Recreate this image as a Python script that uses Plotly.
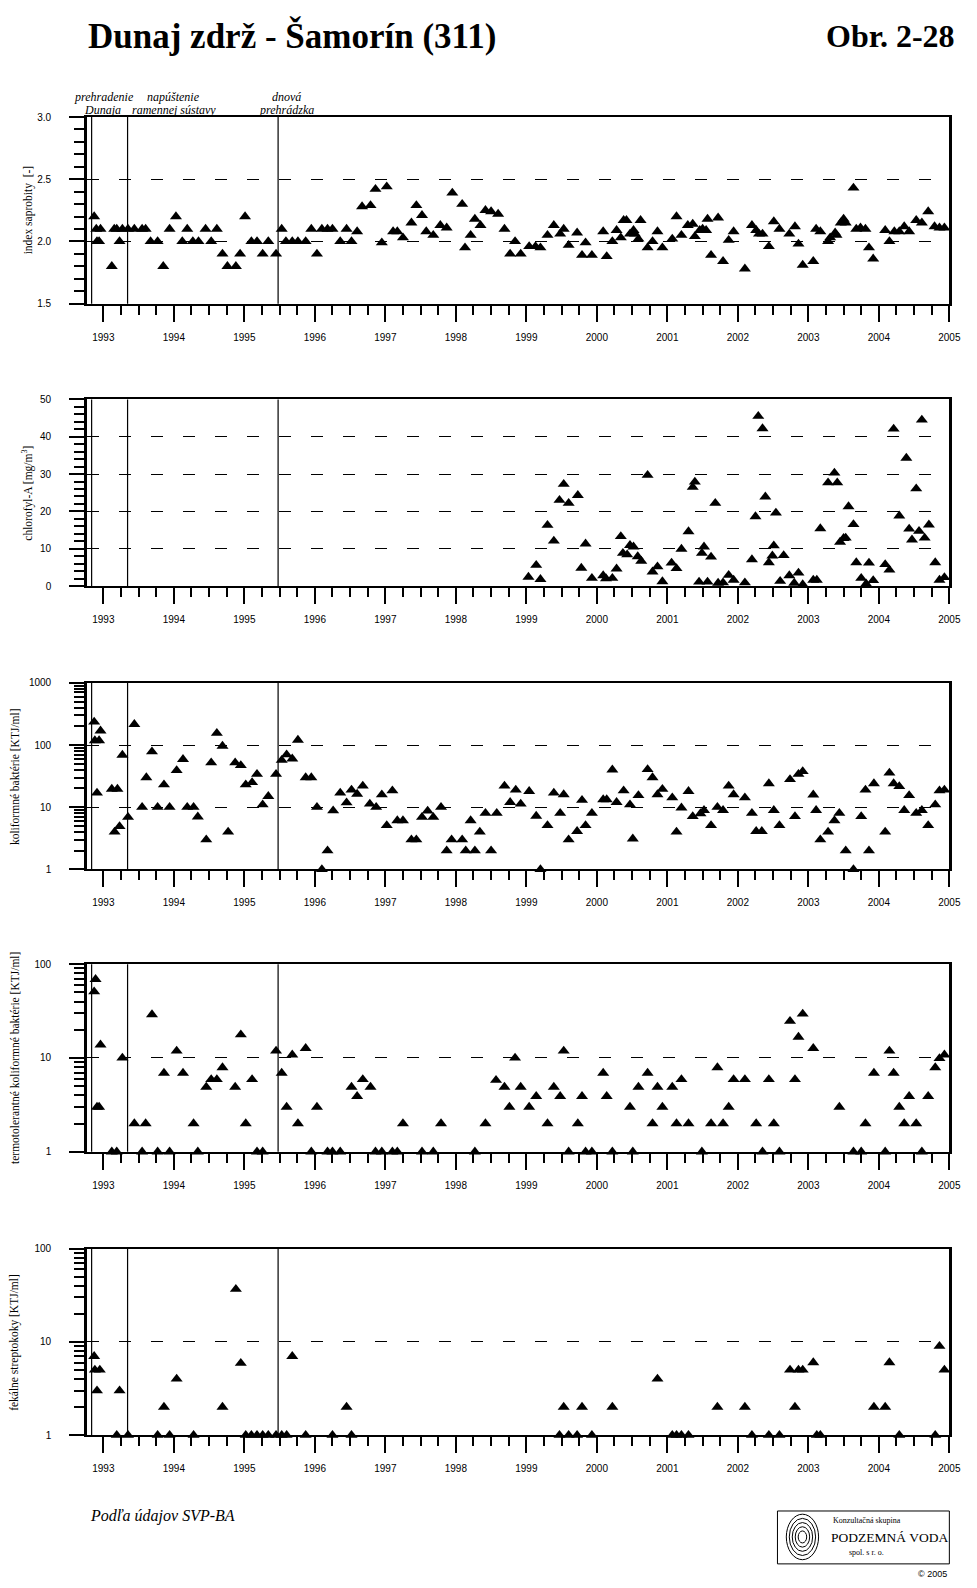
import plotly.graph_objects as go

# ---------------- data (decimal years) ----------------
saprobity_year = [1992.87, 1992.90, 1992.91, 1992.94, 1992.96, 1993.12, 1993.155, 1993.19, 1993.23, 1993.27,
                  1993.35, 1993.44, 1993.55, 1993.60, 1993.67, 1993.77, 1993.85, 1993.94, 1994.03, 1994.12,
                  1994.19, 1994.27, 1994.35, 1994.45, 1994.53, 1994.61, 1994.69, 1994.76, 1994.88, 1994.94,
                  1995.01, 1995.10, 1995.18, 1995.26, 1995.34, 1995.45, 1995.53, 1995.59, 1995.68, 1995.76,
                  1995.87, 1995.95, 1996.03, 1996.10, 1996.18, 1996.25, 1996.36, 1996.45, 1996.52, 1996.60,
                  1996.67, 1996.79, 1996.86, 1996.95, 1997.02, 1997.11, 1997.17, 1997.25, 1997.37, 1997.44,
                  1997.52, 1997.58, 1997.68, 1997.78, 1997.87, 1997.95, 1998.09, 1998.13, 1998.21, 1998.27,
                  1998.35, 1998.42, 1998.50, 1998.60, 1998.69, 1998.77, 1998.84, 1998.92, 1999.04, 1999.13,
                  1999.20, 1999.30, 1999.39, 1999.48, 1999.53, 1999.60, 1999.72, 1999.79, 1999.84, 1999.93,
                  2000.09, 2000.14, 2000.22, 2000.28, 2000.34, 2000.38, 2000.42, 2000.47, 2000.52, 2000.54,
                  2000.59, 2000.62, 2000.72, 2000.79, 2000.86, 2000.93, 2001.07, 2001.13, 2001.20, 2001.29,
                  2001.36, 2001.39, 2001.46, 2001.50, 2001.55, 2001.57, 2001.62, 2001.72, 2001.79, 2001.87,
                  2001.94, 2002.10, 2002.20, 2002.26, 2002.30, 2002.35, 2002.44, 2002.51, 2002.59, 2002.73,
                  2002.81, 2002.86, 2002.92, 2003.07, 2003.11, 2003.17, 2003.28, 2003.31, 2003.38, 2003.40,
                  2003.46, 2003.50, 2003.53, 2003.64, 2003.68, 2003.74, 2003.81, 2003.86, 2003.92, 2004.09,
                  2004.15, 2004.22, 2004.29, 2004.36, 2004.43, 2004.53, 2004.61, 2004.70, 2004.79, 2004.86,
                  2004.93]
saprobity_index = [2.2, 2.1, 2.0, 2.0, 2.1, 1.8, 2.1, 2.1, 2.0, 2.1,
                   2.1, 2.1, 2.1, 2.1, 2.0, 2.0, 1.8, 2.1, 2.2, 2.0,
                   2.1, 2.0, 2.0, 2.1, 2.0, 2.1, 1.9, 1.8, 1.8, 1.9,
                   2.2, 2.0, 2.0, 1.9, 2.0, 1.9, 2.1, 2.0, 2.0, 2.0,
                   2.0, 2.1, 1.9, 2.1, 2.1, 2.1, 2.0, 2.1, 2.0, 2.08,
                   2.28, 2.29, 2.42, 1.99, 2.44, 2.08, 2.08, 2.03, 2.15, 2.29,
                   2.21, 2.08, 2.05, 2.13, 2.11, 2.39, 2.30, 1.95, 2.05, 2.18,
                   2.13, 2.25, 2.24, 2.22, 2.10, 1.90, 2.00, 1.90, 1.96, 1.96,
                   1.95, 2.05, 2.13, 2.06, 2.10, 1.97, 2.07, 1.89, 1.99, 1.89,
                   2.08, 1.88, 2.00, 2.09, 2.03, 2.17, 2.17, 2.06, 2.09, 2.06,
                   2.02, 2.17, 1.95, 2.00, 2.08, 1.95, 2.02, 2.20, 2.05, 2.13,
                   2.14, 2.04, 2.09, 2.10, 2.09, 2.18, 1.89, 2.19, 1.84, 2.01,
                   2.08, 1.78, 2.13, 2.09, 2.06, 2.06, 1.96, 2.16, 2.10, 2.06,
                   2.12, 1.98, 1.81, 1.84, 2.10, 2.08, 2.00, 2.03, 2.07, 2.05,
                   2.15, 2.18, 2.15, 2.43, 2.10, 2.11, 2.10, 1.95, 1.86, 2.09,
                   2.00, 2.08, 2.08, 2.12, 2.08, 2.17, 2.15, 2.24, 2.12, 2.11,
                   2.11]

chl_year = [1999.03, 1999.14, 1999.20, 1999.30, 1999.39, 1999.47, 1999.53, 1999.60, 1999.73, 1999.78,
            1999.84, 1999.93, 2000.09, 2000.13, 2000.22, 2000.28, 2000.34, 2000.37, 2000.43, 2000.47,
            2000.52, 2000.58, 2000.63, 2000.72, 2000.79, 2000.86, 2000.93, 2001.06, 2001.13, 2001.20,
            2001.30, 2001.36, 2001.39, 2001.45, 2001.49, 2001.52, 2001.57, 2001.62, 2001.68, 2001.72,
            2001.79, 2001.87, 2001.94, 2002.10, 2002.20, 2002.25, 2002.29, 2002.35, 2002.39, 2002.44,
            2002.49, 2002.51, 2002.54, 2002.60, 2002.65, 2002.73, 2002.80, 2002.86, 2002.92, 2003.07,
            2003.12, 2003.17, 2003.28, 2003.37, 2003.41, 2003.45, 2003.50, 2003.53, 2003.57, 2003.64,
            2003.68, 2003.75, 2003.82, 2003.86, 2003.92, 2004.09, 2004.15, 2004.21, 2004.29, 2004.36,
            2004.39, 2004.43, 2004.47, 2004.53, 2004.57, 2004.61, 2004.65, 2004.71, 2004.80, 2004.86,
            2004.93]
chl_value = [2.4, 5.6, 1.8, 16.3, 12.1, 23.0, 27.3, 22.2, 24.3, 4.8,
             11.3, 2.1, 2.8, 2.0, 2.1, 4.6, 13.3, 8.8, 8.4, 10.9,
             10.5, 7.9, 6.7, 29.7, 3.8, 5.2, 1.2, 6.2, 4.7, 9.9,
             14.6, 26.5, 27.9, 1.1, 8.8, 10.5, 1.1, 7.8, 22.2, 0.8,
             0.9, 2.9, 1.6, 0.9, 7.1, 18.6, 45.5, 42.2, 23.9, 6.3,
             8.1, 10.8, 19.6, 1.3, 8.2, 2.8, 0.8, 3.5, 0.4, 1.6,
             1.6, 15.4, 27.7, 30.3, 27.7, 11.8, 12.8, 12.9, 21.3, 16.5,
             6.3, 2.1, 0.6, 6.2, 1.5, 5.8, 4.3, 42.1, 18.8, 50.9,
             34.3, 15.3, 12.4, 26.1, 14.7, 44.5, 12.9, 16.4, 6.3, 1.6,
             2.3]

coli_year = [1992.87, 1992.88, 1992.91, 1992.94, 1992.96, 1993.12, 1993.16, 1993.20, 1993.23, 1993.27,
             1993.35, 1993.44, 1993.55, 1993.61, 1993.69, 1993.77, 1993.86, 1993.94, 1994.04, 1994.13,
             1994.19, 1994.28, 1994.34, 1994.46, 1994.53, 1994.61, 1994.69, 1994.77, 1994.87, 1994.95,
             1995.02, 1995.11, 1995.18, 1995.26, 1995.34, 1995.45, 1995.53, 1995.60, 1995.68, 1995.76,
             1995.87, 1995.95, 1996.03, 1996.10, 1996.18, 1996.26, 1996.36, 1996.45, 1996.52, 1996.60,
             1996.68, 1996.78, 1996.87, 1996.95, 1997.02, 1997.10, 1997.17, 1997.25, 1997.37, 1997.44,
             1997.52, 1997.60, 1997.68, 1997.79, 1997.87, 1997.94, 1998.09, 1998.14, 1998.21, 1998.27,
             1998.34, 1998.42, 1998.50, 1998.58, 1998.69, 1998.77, 1998.85, 1998.92, 1999.04, 1999.14,
             1999.20, 1999.30, 1999.39, 1999.48, 1999.53, 1999.60, 1999.72, 1999.79, 1999.84, 1999.93,
             2000.09, 2000.14, 2000.22, 2000.28, 2000.38, 2000.47, 2000.51, 2000.59, 2000.72, 2000.79,
             2000.86, 2000.93, 2001.07, 2001.13, 2001.20, 2001.30, 2001.36, 2001.47, 2001.52, 2001.62,
             2001.71, 2001.79, 2001.87, 2001.94, 2002.10, 2002.20, 2002.26, 2002.34, 2002.44, 2002.51,
             2002.59, 2002.74, 2002.81, 2002.86, 2002.92, 2003.07, 2003.11, 2003.17, 2003.28, 2003.37,
             2003.44, 2003.53, 2003.64, 2003.75, 2003.81, 2003.86, 2003.93, 2004.09, 2004.15, 2004.21,
             2004.29, 2004.36, 2004.43, 2004.53, 2004.61, 2004.70, 2004.80, 2004.86, 2004.93]
coli_value = [235, 118, 17, 118, 169, 19.6, 4, 19.6, 4.9, 69,
              6.9, 215, 10, 30, 78, 10, 23, 10, 39, 59,
              10, 10, 7, 3, 52, 155, 96, 4, 52, 47,
              23, 25, 34, 11, 15, 34, 57, 70, 60, 120,
              30, 30, 10, 1, 2, 8.8, 17, 11.8, 19, 16.3,
              22, 11.3, 10, 15.9, 5.1, 18.4, 6.1, 6.1, 3, 3,
              6.9, 8.7, 6.9, 10, 2, 3, 3, 2, 6.1, 2,
              4, 8, 2, 8, 22, 12, 19, 11.3, 18, 7.2,
              1, 5.1, 17, 8, 16, 3, 4.1, 13, 5.1, 8,
              13.3, 13.3, 40, 12, 18.4, 11, 3.1, 15.5, 40.5, 30,
              16, 19.5, 14.2, 4, 9.8, 18, 7.1, 7.9, 8.9, 5.1,
              10, 8.9, 22, 16, 14.2, 8, 4.1, 4.1, 24, 8.9,
              5.1, 28, 7.1, 34, 37.6, 15.8, 8.9, 3, 4, 6.1,
              8, 2, 1, 7.1, 19, 2, 24, 4, 35.5, 24,
              21.6, 8.9, 15.5, 8, 8.9, 5.1, 11, 18.4, 19]

thermo_year = [1992.87, 1992.89, 1992.91, 1992.94, 1992.96, 1993.12, 1993.19, 1993.27, 1993.44, 1993.55,
               1993.60, 1993.69, 1993.77, 1993.86, 1993.94, 1994.04, 1994.13, 1994.28, 1994.34, 1994.46,
               1994.53, 1994.61, 1994.69, 1994.87, 1994.95, 1995.02, 1995.11, 1995.18, 1995.26, 1995.45,
               1995.53, 1995.60, 1995.68, 1995.76, 1995.87, 1995.95, 1996.03, 1996.18, 1996.25, 1996.36,
               1996.52, 1996.60, 1996.68, 1996.79, 1996.86, 1996.95, 1997.10, 1997.17, 1997.25, 1997.52,
               1997.68, 1997.79, 1998.27, 1998.42, 1998.57, 1998.69, 1998.76, 1998.84, 1998.92, 1999.04,
               1999.14, 1999.30, 1999.39, 1999.48, 1999.53, 1999.60, 1999.73, 1999.79, 1999.84, 1999.93,
               2000.09, 2000.14, 2000.22, 2000.47, 2000.51, 2000.59, 2000.72, 2000.79, 2000.86, 2000.93,
               2001.07, 2001.13, 2001.20, 2001.30, 2001.49, 2001.62, 2001.71, 2001.79, 2001.87, 2001.94,
               2002.10, 2002.26, 2002.35, 2002.44, 2002.51, 2002.59, 2002.74, 2002.81, 2002.86, 2002.92,
               2003.07, 2003.44, 2003.64, 2003.75, 2003.81, 2003.93, 2004.09, 2004.15, 2004.21, 2004.29,
               2004.36, 2004.43, 2004.53, 2004.61, 2004.70, 2004.80, 2004.86, 2004.93]
thermo_value = [51, 69, 3, 3, 13.8, 1, 1, 10, 2, 1,
                2, 29, 1, 6.9, 1, 11.9, 6.9, 2, 1, 4.9,
                5.9, 5.9, 7.9, 4.9, 17.7, 2, 5.9, 1, 1, 11.9,
                6.9, 3, 10.8, 2, 12.7, 1, 3, 1, 1, 1,
                4.9, 3.9, 5.9, 4.9, 1, 1, 1, 1, 2, 1,
                1, 2, 1, 2, 5.8, 4.9, 3, 10, 4.9, 3,
                3.9, 2, 4.9, 3.9, 11.9, 1, 2, 3.9, 1, 1,
                6.9, 3.9, 1, 3, 1, 4.9, 6.9, 2, 4.9, 3,
                4.9, 2, 5.9, 2, 1, 2, 7.9, 2, 3, 5.9,
                5.9, 2, 1, 5.9, 2, 1, 24.7, 5.9, 16.7, 29.5,
                12.7, 3, 1, 1, 2, 6.9, 1, 11.9, 6.9, 3,
                2, 3.9, 2, 1, 3.9, 7.9, 9.9, 10.8]

strep_year = [1992.87, 1992.88, 1992.91, 1992.95, 1993.19, 1993.23, 1993.35, 1993.77, 1993.86, 1993.94,
              1994.04, 1994.28, 1994.69, 1994.88, 1994.95, 1995.02, 1995.10, 1995.18, 1995.26, 1995.34,
              1995.45, 1995.53, 1995.60, 1995.68, 1995.87, 1996.25, 1996.45, 1996.52, 1999.47, 1999.53,
              1999.60, 1999.72, 1999.79, 1999.93, 2000.22, 2000.86, 2001.07, 2001.13, 2001.20, 2001.30,
              2001.71, 2002.10, 2002.20, 2002.44, 2002.59, 2002.74, 2002.81, 2002.86, 2002.92, 2003.07,
              2003.12, 2003.17, 2003.93, 2004.09, 2004.15, 2004.29, 2004.80, 2004.86, 2004.93]
strep_value = [7, 5, 3, 5, 1, 3, 1, 1, 2, 1,
               4, 1, 2, 36.7, 5.9, 1, 1, 1, 1, 1,
               1, 1, 1, 7, 1, 1, 2, 1, 1, 2,
               1, 1, 2, 1, 2, 4, 1, 1, 1, 1,
               2, 2, 1, 1, 1, 5, 2, 5, 5, 6,
               1, 1, 2, 2, 6, 1, 1, 9, 5]

event_years = [1992.834, 1993.344, 1995.479]
event_label_lines = [("prehradenie", "Dunaja"), ("napúštenie", "ramennej sústavy"), ("dnová", "prehrádzka")]

y_titles = ["index saprobity  [-]", "chlorofyl-A [mg/m<sup>3</sup>]", "koliformné baktérie [KTJ/ml]",
            "termotolerantné koliformné baktérie [KTJ/ml]", "fekálne streptokoky [KTJ/ml]"]

# ---------------- layout helpers ----------------
W, H = 977, 1588
# empirical correction for the capture pipeline (measured on earlier renders)
SX, SY, BY = 0.9884, 0.99462, 3.7


def fx(px):
    return (px / SX) / W


def fy(py):
    return 1 - ((py - BY) / SY) / H


def sfx(i):
    return "" if i == 1 else str(i)


X0, X1 = 87, 950
panel_px = [(115, 302), (398, 585), (682, 869), (964, 1152), (1249, 1436)]
title_x = [28, 28, 15, 15, 15]

SANS = "Liberation Sans"
SERIF = "Liberation Serif"

fig = go.Figure()

series = [(saprobity_year, saprobity_index), (chl_year, chl_value), (coli_year, coli_value),
          (thermo_year, thermo_value), (strep_year, strep_value)]

for i, (xs, ys) in enumerate(series, start=1):
    fig.add_trace(go.Scatter(
        x=xs, y=ys, mode="markers", xaxis="x" + sfx(i), yaxis="y" + sfx(i),
        marker=dict(symbol="triangle-up", size=10.5, color="black", line=dict(width=0)),
        cliponaxis=False, showlegend=False, hoverinfo="x+y"))

layout = dict(width=W, height=H, autosize=False, margin=dict(l=0, r=0, t=0, b=0, pad=0),
              paper_bgcolor="white", plot_bgcolor="white", showlegend=False,
              font=dict(family=SANS, color="black"))

for i, (top, bot) in enumerate(panel_px, start=1):
    layout["xaxis" + sfx(i)] = dict(
        domain=[fx(X0), fx(X1)], range=[1992.7675, 2005.0], anchor="y" + sfx(i),
        tickmode="linear", tick0=1993, dtick=1, tickformat="d",
        ticks="outside", ticklen=16, tickwidth=2, tickcolor="black",
        minor=dict(ticks="outside", ticklen=9, tickwidth=2, tickcolor="black",
                   tickmode="linear", tick0=1993, dtick=0.25, showgrid=False),
        showline=True, linewidth=2, linecolor="black", mirror=True,
        showgrid=False, zeroline=False, ticklabelstandoff=7,
        tickfont=dict(family=SANS, size=10, color="black"))
    ya = dict(domain=[fy(bot), fy(top)], anchor="x" + sfx(i),
              ticks="outside", ticklen=15, tickwidth=2, tickcolor="black",
              showline=True, linewidth=2.5, linecolor="black", mirror=True,
              showgrid=True, gridcolor="black", gridwidth=1, griddash="12px,20px",
              zeroline=False, ticklabelstandoff=16,
              tickfont=dict(family=SANS, size=10, color="black"))
    if i == 1:
        ya.update(range=[1.5, 3.0], tickmode="linear", tick0=1.5, dtick=0.5, tickformat=".1f",
                  minor=dict(ticks="outside", ticklen=10, tickwidth=2, tickcolor="black",
                             tickmode="linear", tick0=1.5, dtick=0.1, showgrid=False))
    elif i == 2:
        ya.update(range=[0, 50], tickmode="linear", tick0=0, dtick=10,
                  minor=dict(ticks="outside", ticklen=10, tickwidth=2, tickcolor="black",
                             tickmode="linear", tick0=0, dtick=2, showgrid=False))
    else:
        decades = 3 if i == 3 else 2
        majors = [10 ** k for k in range(decades + 1)]
        minors = [m * 10 ** k for k in range(decades) for m in range(2, 10)]
        ya.update(type="log", range=[0, decades], tickmode="array", tickvals=majors,
                  ticktext=[str(v) for v in majors],
                  minor=dict(ticks="outside", ticklen=10, tickwidth=2, tickcolor="black",
                             tickmode="array", tickvals=minors, showgrid=False))
    layout["yaxis" + sfx(i)] = ya

shapes = []
annotations = []
for i, (top, bot) in enumerate(panel_px, start=1):
    for ev in event_years:
        shapes.append(dict(type="line", xref="x" + sfx(i), yref="y" + sfx(i) + " domain",
                           x0=ev, x1=ev, y0=0, y1=1,
                           line=dict(color="black", width=1.2), layer="above"))
    annotations.append(dict(text=y_titles[i - 1], x=fx(title_x[i - 1]), y=fy((top + bot) / 2),
                            xref="paper", yref="paper", textangle=-90, showarrow=False,
                            xanchor="center", yanchor="middle",
                            font=dict(family=SERIF, size=11.5, color="black")))

# event labels above the first panel (two lines each)
label_pos = [((104.5, 95), (102.5, 108)), ((173.5, 95), (174, 108)), ((287, 95), (286.5, 108))]
for (l1, l2), (p1, p2) in zip(event_label_lines, label_pos):
    for txt, (lx, ly) in ((l1, p1), (l2, p2)):
        annotations.append(dict(text="<i>" + txt + "</i>", xref="paper", yref="paper",
                                x=fx(lx), y=fy(ly), showarrow=False, xanchor="center",
                                yanchor="middle", font=dict(family=SERIF, size=12, color="black")))

# titles
annotations.append(dict(text="<b>Dunaj zdrž - Šamorín (311)</b>", xref="paper", yref="paper",
                        x=fx(86), y=fy(34), xanchor="left", yanchor="middle", showarrow=False,
                        font=dict(family=SERIF, size=35, color="black")))
annotations.append(dict(text="<b>Obr. 2-28</b>", xref="paper", yref="paper",
                        x=fx(958), y=fy(34), xanchor="right", yanchor="middle", showarrow=False,
                        font=dict(family=SERIF, size=32, color="black")))
annotations.append(dict(text="<i>Podľa údajov SVP-BA</i>", xref="paper", yref="paper",
                        x=fx(88), y=fy(1517), xanchor="left", yanchor="middle", showarrow=False,
                        font=dict(family=SERIF, size=16, color="black")))

# logo box
shapes.append(dict(type="rect", xref="paper", yref="paper", x0=fx(778), x1=fx(950),
                   y0=fy(1565), y1=fy(1512), line=dict(color="black", width=1)))
for r in [19, 15.5, 12, 8.5, 5]:
    shapes.append(dict(type="circle", xref="paper", yref="paper",
                       x0=fx(803 - r * 0.85), x1=fx(803 + r * 0.85), y0=fy(1538 + r * 1.2),
                       y1=fy(1538 - r * 1.2), line=dict(color="black", width=1)))
annotations.append(dict(text="Konzultačná skupina", xref="paper", yref="paper", x=fx(868), y=fy(1522),
                        xanchor="center", yanchor="middle", showarrow=False,
                        font=dict(family=SERIF, size=8, color="black")))
annotations.append(dict(text="PODZEMNÁ VODA", xref="paper", yref="paper", x=fx(890), y=fy(1539),
                        xanchor="center", yanchor="middle", showarrow=False,
                        font=dict(family=SERIF, size=13.5, color="black")))
annotations.append(dict(text="spol. s r. o.", xref="paper", yref="paper", x=fx(867), y=fy(1554),
                        xanchor="center", yanchor="middle", showarrow=False,
                        font=dict(family=SERIF, size=8, color="black")))
annotations.append(dict(text="© 2005", xref="paper", yref="paper", x=fx(950), y=fy(1575),
                        xanchor="right", yanchor="middle", showarrow=False,
                        font=dict(family=SANS, size=9, color="black")))

layout["shapes"] = shapes
layout["annotations"] = annotations
fig.update_layout(**layout)

fig.write_html("out.html", config={"displayModeBar": False},
               post_script="document.body.style.margin='0px';document.body.style.overflow='hidden';")
